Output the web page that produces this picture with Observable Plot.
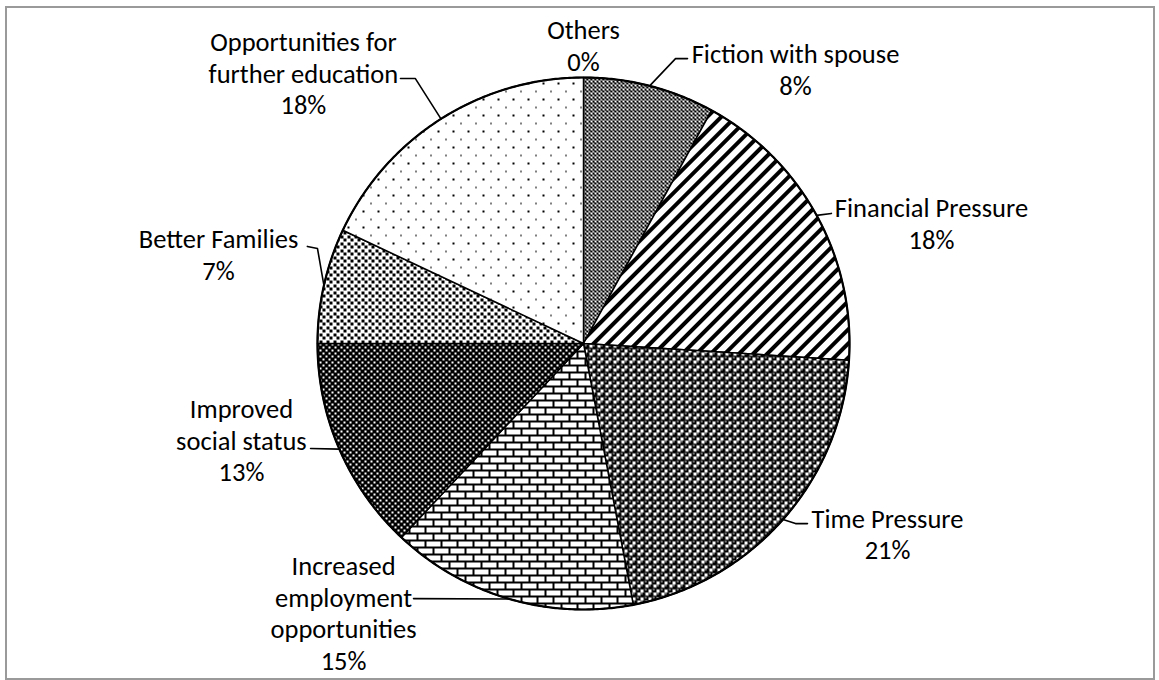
<!DOCTYPE html>
<html><head><meta charset="utf-8">
<script src="https://cdn.jsdelivr.net/npm/d3@7"></script>
<script src="https://cdn.jsdelivr.net/npm/@observablehq/plot@0.6"></script>
<style>
html,body{margin:0;padding:0;background:#fff;}
#wrap{position:relative;width:1159px;height:680px;overflow:hidden;}
#frame{position:absolute;left:5px;top:6px;width:1150px;height:674px;border:2px solid #9a9a9a;box-sizing:border-box;pointer-events:none;}
</style></head><body>
<div id="wrap"><div id="chart"></div><div id="frame"></div></div>
<script>
// ---- data ----
const categories = ["Others", "Fiction with spouse", "Financial Pressure", "Time Pressure",
  "Increased employment opportunities", "Improved social status", "Better Families",
  "Opportunities for further education"];
const labelNames = ["Others", "Fiction with spouse", "Financial Pressure", "Time Pressure",
  "Increased\nemployment\nopportunities", "Improved\nsocial status", "Better Families",
  "Opportunities for\nfurther education"];
const values = [0, 8, 18, 21, 15, 13, 7, 18];
const patternIds = ["p-none", "p-fine", "p-diag", "p-sphere", "p-brick", "p-darkdots", "p-confetti", "p-dots"];

// ---- layout (in pie radii, relative to the pie centre) ----
const W = 1159, H = 680, CX = 583, CY = 343, R = 266;
const labelPos = [[0, -1.122], [0.797, -1.034], [1.308, -0.453], [1.143, 0.714],
  [-0.902, 1.011], [-1.286, 0.361], [-1.372, -0.336], [-1.053, -1.019]];
const leaderPts = [null, [[0.346, -1.071], [0.391, -1.071]], [[0.932, -0.489]],
  [[0.797, 0.677], [0.842, 0.677]], [[-0.639, 0.959]], [[-1.026, 0.395]],
  [[-1.0, -0.357], [-1.038, -0.365]], [[-0.632, -0.996], [-0.688, -0.996]]];

const FONT = "Carlito, Calibri, Lato, sans-serif";

const data = categories.map((c, i) => ({name: c, label: labelNames[i], value: values[i], pat: patternIds[i], i}));
const arcs = d3.pie().sort(null).value(d => d.value)(data);

const pt = (a, k = 1) => ({x: k * Math.sin(a), y: -k * Math.cos(a)});

function slicePoints(a0, a1) {
  const n = Math.max(2, Math.ceil((a1 - a0) / (Math.PI / 360)));
  const pts = [{x: 0, y: 0}];
  for (let j = 0; j <= n; j++) pts.push(pt(a0 + (a1 - a0) * j / n));
  pts.push({x: 0, y: 0});
  return pts;
}

function defsMark() {
  const defs = d3.create("svg:defs");
  const pat = (id, w, h, tr) => {
    const p = defs.append("pattern").attr("id", id).attr("patternUnits", "userSpaceOnUse")
      .attr("width", w).attr("height", h);
    if (tr) p.attr("patternTransform", tr);
    return p;
  };
  const rect = (p, x, y, w, h, f) => p.append("rect").attr("x", x).attr("y", y).attr("width", w).attr("height", h)
    .attr("fill", f).attr("shape-rendering", "crispEdges");
  // fine checker
  let p = pat("p-fine", 4, 4);
  rect(p, 0, 0, 4, 4, "#fff"); rect(p, 0, 0, 2, 2, "#000"); rect(p, 2, 2, 2, 2, "#000"); rect(p, 1, 2, 1, 1, "#000");
  // diagonal stripes
  p = pat("p-diag", 10, 10, "rotate(45)");
  rect(p, 0, 0, 10, 10, "#fff"); rect(p, 0, 0, 4.2, 10, "#000");
  // spheres
  p = pat("p-sphere", 8, 8);
  rect(p, 0, 0, 8, 8, "#fff");
  [[2, 2], [6, 6]].forEach(([x, y]) => {
    p.append("circle").attr("cx", x).attr("cy", y).attr("r", 3).attr("fill", "#000");
    p.append("circle").attr("cx", x - 0.7).attr("cy", y - 0.9).attr("r", 0.8).attr("fill", "#fff");
  });
  // bricks
  p = pat("p-brick", 16, 14);
  rect(p, 0, 0, 16, 14, "#fff");
  rect(p, 0, 0, 16, 2, "#000"); rect(p, 0, 7, 16, 2, "#000");
  rect(p, 0, 0, 2, 7, "#000"); rect(p, 8, 7, 2, 7, "#000");
  // dark with white dots
  p = pat("p-darkdots", 6, 6);
  rect(p, 0, 0, 6, 6, "#000"); rect(p, 1, 1, 1.5, 1.5, "#fff"); rect(p, 4, 4, 1.5, 1.5, "#fff");
  // confetti squares
  p = pat("p-confetti", 7, 7);
  rect(p, 0, 0, 7, 7, "#fff"); rect(p, 0, 0, 3, 3, "#000"); rect(p, 3.5, 3.5, 3, 3, "#000");
  // sparse dots
  p = pat("p-dots", 15, 16);
  rect(p, 0, 0, 15, 16, "#fff"); rect(p, 2, 2, 1.7, 1.7, "#000"); rect(p, 9.5, 10, 1.7, 1.7, "#000");
  return defs.node();
}

const marks = [defsMark];
arcs.filter(a => a.data.value > 0).forEach(a => {
  marks.push(Plot.line(slicePoints(a.startAngle, a.endAngle), {
    x: "x", y: "y", fill: `url(#${a.data.pat})`, stroke: "#000", strokeWidth: 1.5, strokeLinejoin: "round"
  }));
});
// outer rim
marks.push(Plot.line(slicePoints(0, 2 * Math.PI).slice(1, -1), {x: "x", y: "y", stroke: "#000", strokeWidth: 2.2}));

// leader lines
arcs.forEach((a, i) => {
  if (!leaderPts[i]) return;
  const mid = (a.startAngle + a.endAngle) / 2;
  const pts = [pt(mid)].concat(leaderPts[i].map(([x, y]) => ({x, y})));
  marks.push(Plot.line(pts, {x: "x", y: "y", stroke: "#000", strokeWidth: 1.6}));
});

// labels
const labels = arcs.map((a, i) => ({
  x: labelPos[i][0], y: labelPos[i][1],
  text: a.data.label + "\n" + Math.round(a.data.value) + "%"
}));
marks.push(Plot.text(labels, {
  x: "x", y: "y", text: "text", fontSize: 26.5, lineHeight: 1.2, lineAnchor: "middle",
  textAnchor: "middle", fill: "#000", fontFamily: FONT
}));

const chart = Plot.plot({
  width: W, height: H,
  marginTop: 0, marginRight: 0, marginBottom: 0, marginLeft: 0,
  x: {type: "linear", domain: [-CX / R, (W - CX) / R], range: [0, W], axis: null},
  y: {type: "linear", domain: [-CY / R, (H - CY) / R], range: [0, H], axis: null},
  style: {background: "#fff", fontFamily: FONT, overflow: "visible"},
  marks
});
document.getElementById("chart").appendChild(chart);
</script>
</body></html>
